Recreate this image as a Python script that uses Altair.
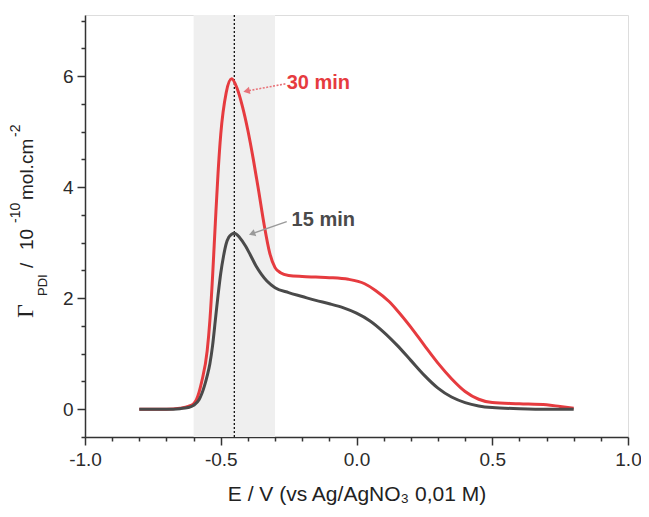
import altair as alt
import pandas as pd

# ---- data ----
E_30 = [-0.80, -0.70, -0.65, -0.62, -0.60, -0.59, -0.57, -0.55, -0.54, -0.53, -0.52, -0.51,
        -0.50, -0.48, -0.46, -0.44, -0.42, -0.40, -0.38, -0.36, -0.34, -0.32, -0.30, -0.28,
        -0.25, -0.20, -0.15, -0.10, -0.03, 0.03, 0.07, 0.12, 0.15, 0.20, 0.25, 0.30, 0.35,
        0.40, 0.45, 0.50, 0.60, 0.70, 0.75, 0.80]
G_30 = [0.00, 0.00, 0.02, 0.05, 0.10, 0.17, 0.50, 1.05, 1.60, 2.40, 3.35, 4.25,
        4.95, 5.70, 5.95, 5.78, 5.45, 5.02, 4.50, 3.92, 3.32, 2.82, 2.55, 2.46,
        2.41, 2.39, 2.38, 2.37, 2.34, 2.26, 2.14, 1.94, 1.78, 1.48, 1.15, 0.83, 0.55,
        0.32, 0.18, 0.12, 0.10, 0.08, 0.05, 0.02]

E_15 = [-0.80, -0.70, -0.65, -0.62, -0.60, -0.58, -0.56, -0.55, -0.54, -0.53, -0.52, -0.51,
        -0.50, -0.49, -0.48, -0.47, -0.46, -0.45, -0.43, -0.41, -0.39, -0.37, -0.35, -0.33,
        -0.30, -0.25, -0.20, -0.15, -0.10, -0.05, 0.00, 0.05, 0.10, 0.15, 0.20, 0.25, 0.30,
        0.35, 0.40, 0.45, 0.50, 0.60, 0.70, 0.80]
G_15 = [0.00, 0.00, 0.01, 0.03, 0.07, 0.17, 0.42, 0.60, 0.82, 1.15, 1.60, 2.05,
        2.45, 2.75, 2.98, 3.10, 3.15, 3.17, 3.09, 2.95, 2.77, 2.58, 2.43, 2.31,
        2.19, 2.10, 2.03, 1.96, 1.90, 1.83, 1.73, 1.59, 1.39, 1.15, 0.88, 0.61, 0.38,
        0.22, 0.12, 0.06, 0.03, 0.01, 0.00, 0.00]

SHADE = [-0.60, -0.30]
PEAK_E = -0.45

X_TICKS = [-1.0, -0.9, -0.8, -0.7, -0.6, -0.5, -0.4, -0.3, -0.2, -0.1, 0.0,
           0.1, 0.2, 0.3, 0.4, 0.5, 0.6, 0.7, 0.8, 0.9, 1.0]
Y_TICKS = [-0.5, 0.0, 0.5, 1.0, 1.5, 2.0, 2.5, 3.0, 3.5, 4.0, 4.5, 5.0, 5.5, 6.0, 6.5, 7.0]

LABELS = ["30 min", "15 min"]
LABEL_E = [-0.257, -0.239]
LABEL_G = [5.87, 3.40]
ARROW_E0 = [-0.262, -0.257]
ARROW_G0 = [5.86, 3.38]
ARROW_E1 = [-0.405, -0.385]
ARROW_G1 = [5.73, 3.16]
ARROW_ANGLE = [258, 250]

RED = "#e63b3f"
DARK = "#4a4a4a"
TEXT_COLORS = [RED, DARK]
ARROW_COLORS = ["#e8747a", "#9a9a9a"]

W, H = 543, 422
XDOM = [-1.0, 1.0]
YDOM = [-0.5, 7.1]
xs = alt.Scale(domain=XDOM, nice=False, zero=False)
ys = alt.Scale(domain=YDOM, nice=False, zero=False)

FONT = "Liberation Sans"

x_major = "abs(datum.value*2 - round(datum.value*2)) < 0.001"
y_major = "datum.value >= 0 && datum.value <= 6 && abs(datum.value/2 - round(datum.value/2)) < 0.001"

x_axis = alt.Axis(
    values=X_TICKS,
    labelExpr=f"{x_major} ? (datum.value < 0 ? '-' : '') + format(abs(datum.value), '.1f') : ''",
    tickSize={"condition": {"test": x_major, "value": 8}, "value": 4},
    grid=False, domainColor="#333333", tickColor="#333333", domainWidth=1.5, tickWidth=1.5,
    labelFont=FONT, labelFontSize=19, labelColor="#2b2b2b", labelPadding=5, labelFlush=False,
    title="E / V (vs Ag/AgNO₃ 0,01 M)", titleFont=FONT, titleFontSize=21,
    titleFontWeight="normal", titleColor="#222222", titlePadding=14,
)
y_axis = alt.Axis(
    values=Y_TICKS,
    labelExpr=f"{y_major} ? format(datum.value, 'd') : ''",
    tickSize={"condition": {"test": y_major, "value": 8}, "value": 4},
    grid=False, domainColor="#333333", tickColor="#333333", domainWidth=1.5, tickWidth=1.5,
    labelFont=FONT, labelFontSize=19, labelColor="#2b2b2b", labelPadding=4, labelFlush=False,
    title="",
)

df30 = pd.DataFrame({"E": E_30, "G": G_30})
df15 = pd.DataFrame({"E": E_15, "G": G_15})

shade = alt.Chart(pd.DataFrame({"E": [SHADE[0]], "E2": [SHADE[1]]})).mark_rect(
    color="#efefef").encode(
    x=alt.X("E:Q", scale=xs, axis=x_axis), x2="E2:Q",
    y=alt.value(0), y2=alt.value(H))

vline = alt.Chart(pd.DataFrame({"E": [PEAK_E]})).mark_rule(
    color="#111111", strokeDash=[2, 2], strokeWidth=1.3).encode(
    x=alt.X("E:Q", scale=xs, axis=x_axis), y=alt.value(0), y2=alt.value(H))

line30 = alt.Chart(df30).mark_line(color=RED, strokeWidth=3, interpolate="monotone").encode(
    x=alt.X("E:Q", scale=xs, axis=x_axis),
    y=alt.Y("G:Q", scale=ys, axis=y_axis))

line15 = alt.Chart(df15).mark_line(color=DARK, strokeWidth=3, interpolate="monotone").encode(
    x=alt.X("E:Q", scale=xs, axis=x_axis),
    y=alt.Y("G:Q", scale=ys, axis=y_axis))

ann = pd.DataFrame({"label": LABELS, "E": LABEL_E, "G": LABEL_G,
                    "e0": ARROW_E0, "g0": ARROW_G0, "e1": ARROW_E1, "g1": ARROW_G1,
                    "ang": ARROW_ANGLE, "tc": TEXT_COLORS, "ac": ARROW_COLORS})
red_ann = ann.iloc[[0]]
gray_ann = ann.iloc[[1]]

arrow_red = alt.Chart(red_ann).mark_rule(strokeWidth=1.6, strokeDash=[2, 1.5]).encode(
    x=alt.X("e0:Q", scale=xs, axis=x_axis), y=alt.Y("g0:Q", scale=ys, axis=y_axis),
    x2="e1:Q", y2="g1:Q", color=alt.Color("ac:N", scale=None))
arrow_gray = alt.Chart(gray_ann).mark_rule(strokeWidth=1.4).encode(
    x=alt.X("e0:Q", scale=xs, axis=x_axis), y=alt.Y("g0:Q", scale=ys, axis=y_axis),
    x2="e1:Q", y2="g1:Q", color=alt.Color("ac:N", scale=None))

arrow_heads = alt.Chart(ann).mark_point(shape="triangle-up", filled=True, size=55, opacity=1).encode(
    x=alt.X("e1:Q", scale=xs, axis=x_axis), y=alt.Y("g1:Q", scale=ys, axis=y_axis),
    angle=alt.Angle("ang:Q", scale=None), color=alt.Color("ac:N", scale=None))

labels = alt.Chart(ann).mark_text(align="left", baseline="middle", font=FONT,
                                  fontSize=20, fontWeight="bold").encode(
    x=alt.X("E:Q", scale=xs, axis=x_axis), y=alt.Y("G:Q", scale=ys, axis=y_axis),
    text="label:N", color=alt.Color("tc:N", scale=None))

# ---- y axis title built from pieces (rotated text) ----
one = pd.DataFrame({"a": [0]})
TITLE_PIECES = [
    # text, x (px, baseline), y (px, start), size, font
    ("Γ", -52, 303, 24, "Liberation Serif"),
    ("PDI", -38, 281, 13, FONT),
    ("/", -52, 253, 19, FONT),
    ("10", -52, 235, 19, FONT),
    ("-10", -65, 208, 14, FONT),
    ("mol.cm", -52, 185, 19, FONT),
    ("-2", -65, 122, 14, FONT),
]
title_layers = []
for txt, px, py, fs, fnt in TITLE_PIECES:
    title_layers.append(
        alt.Chart(one).mark_text(text=txt, angle=270, align="left", baseline="alphabetic",
                                 font=fnt, fontSize=fs, color="#222222").encode(
            x=alt.value(px), y=alt.value(py)))

chart = alt.layer(shade, vline, line30, line15, arrow_red, arrow_gray, arrow_heads, labels,
                  *title_layers).properties(
    width=W, height=H,
    padding={"left": 77, "top": 7, "right": 13, "bottom": 68},
    autosize=alt.AutoSizeParams(type="none"),
).configure_view(strokeWidth=0).configure(background="white")

chart.save("out.html", embed_options={"renderer": "svg", "actions": False})
